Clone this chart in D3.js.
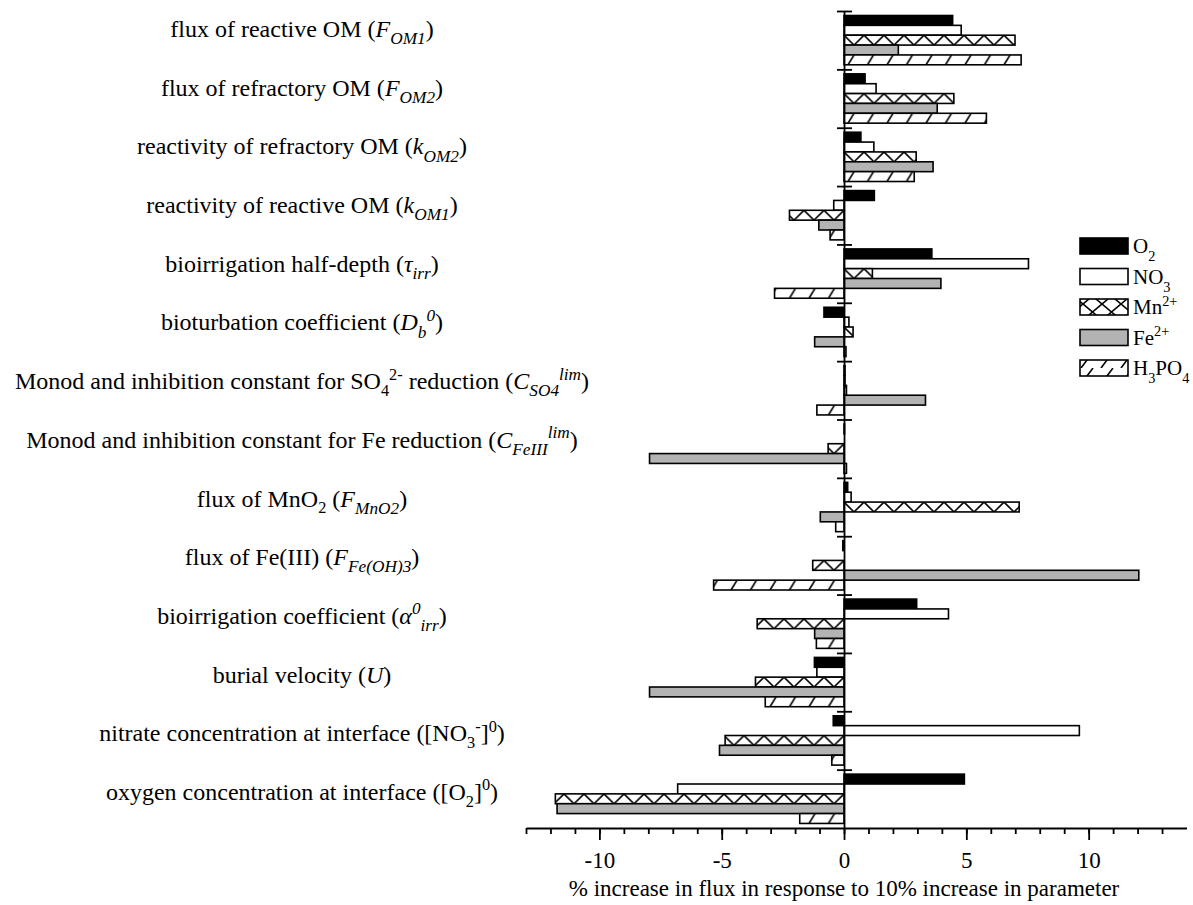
<!DOCTYPE html>
<html>
<head>
<meta charset="utf-8">
<script src="https://cdn.jsdelivr.net/npm/d3@7"></script>
<style>
  body { margin: 0; background: #fff; }
  text { font-family: "Liberation Serif", "Times New Roman", serif; fill: #000; }
</style>
</head>
<body>
<svg id="canvas" width="1193" height="905"></svg>
<script>
// parameter labels, split into [text, style] pieces
// style: n normal, i italic, b sub, p sup, ib italic sub, ip italic sup
let labels = [
  [['flux of reactive OM (', 'n'], ['F', 'i'], ['OM1', 'ib'], [')', 'n']],
  [['flux of refractory OM (', 'n'], ['F', 'i'], ['OM2', 'ib'], [')', 'n']],
  [['reactivity of refractory OM (', 'n'], ['k', 'i'], ['OM2', 'ib'], [')', 'n']],
  [['reactivity of reactive OM (', 'n'], ['k', 'i'], ['OM1', 'ib'], [')', 'n']],
  [['bioirrigation half-depth (', 'n'], ['τ', 'i'], ['irr', 'ib'], [')', 'n']],
  [['bioturbation coefficient (', 'n'], ['D', 'i'], ['b', 'ib'], ['0', 'ip'], [')', 'n']],
  [['Monod and inhibition constant for SO', 'n'], ['4', 'b'], ['2-', 'p'], [' reduction (', 'n'], ['C', 'i'], ['SO4', 'ib'], ['lim', 'ip'], [')', 'n']],
  [['Monod and inhibition constant for Fe reduction (', 'n'], ['C', 'i'], ['FeIII', 'ib'], ['lim', 'ip'], [')', 'n']],
  [['flux of MnO', 'n'], ['2', 'b'], [' (', 'n'], ['F', 'i'], ['MnO2', 'ib'], [')', 'n']],
  [['flux of Fe(III) (', 'n'], ['F', 'i'], ['Fe(OH)3', 'ib'], [')', 'n']],
  [['bioirrigation coefficient (', 'n'], ['α', 'i'], ['0', 'ip'], ['irr', 'ib'], [')', 'n']],
  [['burial velocity (', 'n'], ['U', 'i'], [')', 'n']],
  [['nitrate concentration at interface ([NO', 'n'], ['3', 'b'], ['-', 'p'], [']', 'n'], ['0', 'p'], [')', 'n']],
  [['oxygen concentration at interface ([O', 'n'], ['2', 'b'], [']', 'n'], ['0', 'p'], [')', 'n']]
]

let series = ['O2', 'NO3', 'Mn2+', 'Fe2+', 'H3PO4']
let legendLabels = [
  [['O', 'n'], ['2', 'b']],
  [['NO', 'n'], ['3', 'b']],
  [['Mn', 'n'], ['2+', 'p']],
  [['Fe', 'n'], ['2+', 'p']],
  [['H', 'n'], ['3', 'b'], ['PO', 'n'], ['4', 'b']]
]

// % change in flux, one value per parameter (top to bottom)
let o2Values    = [4.44, 0.86, 0.69, 1.24, 3.59, -0.82, 0.04, 0.02, 0.15, -0.05, 2.97, -1.21, -0.44, 4.92]
let no3Values   = [4.79, 1.31, 1.22, -0.42, 7.54, 0.2, 0.04, 0.0, 0.29, 0.0, 4.27, -1.11, 9.62, -6.8]
let mnValues    = [6.99, 4.49, 2.95, -2.23, 1.16, 0.37, 0.1, -0.65, 7.16, -1.28, -3.55, -3.62, -4.86, -11.8]
let feValues    = [2.22, 3.81, 3.64, -1.03, 3.96, -1.2, 3.33, -7.95, -0.97, 12.05, -1.2, -7.95, -5.09, -11.73]
let h3po4Values = [7.24, 5.82, 2.87, -0.57, -2.84, 0.08, -1.11, 0.1, -0.34, -5.33, -1.13, -3.22, -0.5, -1.81]

let xTicks = d3.range(-13, 14)
let xMajor = [-10, -5, 0, 5, 10]
let xTitle = '% increase in flux in response to 10% increase in parameter'

let valuesBySeries = [o2Values, no3Values, mnValues, feValues, h3po4Values]
let fills = ['#000000', '#ffffff', 'url(#zig)', '#b3b3b3', 'url(#hatch)']
let legendFills = ['#000000', '#ffffff', 'url(#zigL)', '#b3b3b3', 'url(#hatchL)']

let canvas = d3.select('#canvas')

let x = d3.scaleLinear().domain([-13, 14]).range([526, 1186.5])
let yBand = d3.scaleBand().domain(d3.range(labels.length)).range([11, 828]).padding(0)
let inner = d3.scaleBand().domain(series).range([4.5, 53.8])
let labelY = d3.scalePoint().domain(d3.range(labels.length)).range([37, 800])
let bh = inner.bandwidth()

// patterns
let defs = canvas.append('defs')
let zig = defs.append('pattern').attr('id', 'zig').attr('patternUnits', 'userSpaceOnUse')
  .attr('width', 20).attr('height', bh)
zig.append('rect').attr('width', 20).attr('height', bh).attr('fill', '#fff')
zig.append('path').attr('d', `M0,0L10,${bh}L20,0`).attr('stroke', '#000').attr('stroke-width', 1.6).attr('fill', 'none')

let hatch = defs.append('pattern').attr('id', 'hatch').attr('patternUnits', 'userSpaceOnUse')
  .attr('width', 19.5).attr('height', bh)
hatch.append('rect').attr('width', 19.5).attr('height', bh).attr('fill', '#fff')
hatch.append('path').attr('d', `M4,${bh}L10,0`).attr('stroke', '#000').attr('stroke-width', 1.6)

let lh = 16
let zigL = defs.append('pattern').attr('id', 'zigL').attr('patternUnits', 'userSpaceOnUse')
  .attr('width', 19).attr('height', lh)
zigL.append('rect').attr('width', 19).attr('height', lh).attr('fill', '#fff')
zigL.append('path').attr('d', `M0,0L19,${lh}M0,${lh}L19,0`).attr('stroke', '#000').attr('stroke-width', 1.6)

let hatchL = defs.append('pattern').attr('id', 'hatchL').attr('patternUnits', 'userSpaceOnUse')
  .attr('width', 20).attr('height', lh)
hatchL.append('rect').attr('width', 20).attr('height', lh).attr('fill', '#fff')
hatchL.append('path').attr('d', `M1,${lh}L13,0`).attr('stroke', '#000').attr('stroke-width', 1.6)

// rich text with sub/superscripts, sizes relative to the base font size
let styles = {
  n: { size: 1, italic: false, shift: 0 },
  i: { size: 1, italic: true, shift: 0 },
  b: { size: 0.68, italic: false, shift: 0.28 },
  p: { size: 0.68, italic: false, shift: -0.4 },
  ib: { size: 0.72, italic: true, shift: 0.3 },
  ip: { size: 0.72, italic: true, shift: -0.4 }
}
let richText = (sel, parts, base, subShift) => {
  let current = 0
  parts.forEach(([t, s]) => {
    let st = styles[s]
    let shift = (s === 'b' && subShift ? subShift : st.shift) * base
    sel.append('tspan')
      .attr('dy', shift - current)
      .attr('font-size', st.size * base)
      .attr('font-style', st.italic ? 'italic' : 'normal')
      .text(t)
    current = shift
  })
}

// bars
let barGroups = canvas.append('g').selectAll('g')
  .data(series)
  .enter()
  .append('g')

barGroups.each(function (name, si) {
  d3.select(this).selectAll('g')
    .data(valuesBySeries[si])
    .enter()
    .append('g')
    .attr('transform', (v, i) => `translate(${x(0)},${yBand(i) + inner(name)})`)
    .append('rect')
    .attr('x', (v) => x(Math.min(0, v)) - x(0))
    .attr('y', 0)
    .attr('width', (v) => Math.abs(x(v) - x(0)))
    .attr('height', bh)
    .attr('fill', fills[si])
    .attr('stroke', '#000')
    .attr('stroke-width', 1.6)
})

// parameter labels
labels.forEach((parts, i) => {
  let t = canvas.append('text')
    .attr('x', 302)
    .attr('y', labelY(i))
    .attr('text-anchor', 'middle')
  richText(t, parts, 24)
})

// vertical axis at zero with ticks at band boundaries
let yLin = d3.scaleLinear().domain([0, labels.length]).range([11, 828])
canvas.append('g')
  .attr('transform', `translate(${x(0)},0)`)
  .call(d3.axisLeft(yLin).tickValues(d3.range(labels.length)).tickSizeInner(7).tickSizeOuter(0).tickFormat(''))
canvas.append('g')
  .attr('transform', `translate(${x(0)},0)`)
  .call(d3.axisRight(yLin).tickValues(d3.range(labels.length)).tickSizeInner(8).tickSizeOuter(0).tickFormat(''))
  .select('.domain').remove()

// x axis
canvas.append('g')
  .attr('transform', 'translate(0,828)')
  .call(d3.axisBottom(x).tickValues(xTicks).tickSizeInner(6).tickSizeOuter(0).tickFormat(''))
canvas.append('g')
  .attr('transform', 'translate(0,828)')
  .call(d3.axisBottom(x).tickValues(xMajor).tickSizeInner(12).tickSizeOuter(0).tickPadding(12)
    .tickFormat((d) => String(d)))
  .call((g) => g.select('.domain').remove())
  .selectAll('text')
  .attr('font-size', 23)
  .attr('font-family', '"Liberation Serif", serif')

canvas.selectAll('.domain, .tick line')
  .attr('stroke', '#000')
  .attr('stroke-width', 1.8)

canvas.append('text')
  .attr('x', x(0))
  .attr('y', 896)
  .attr('text-anchor', 'middle')
  .attr('font-size', 23)
  .text(xTitle)

// legend
let legend = canvas.append('g')
series.forEach((name, i) => {
  let top = 238 + i * 30.5
  legend.append('rect')
    .attr('x', 1080).attr('y', top)
    .attr('width', 48).attr('height', lh)
    .attr('fill', legendFills[i])
    .attr('stroke', '#000')
    .attr('stroke-width', 1.6)
  let t = legend.append('text')
    .attr('x', 1133)
    .attr('y', top + 15)
  richText(t, legendLabels[i], 21, 0.4)
})
</script>
</body>
</html>
